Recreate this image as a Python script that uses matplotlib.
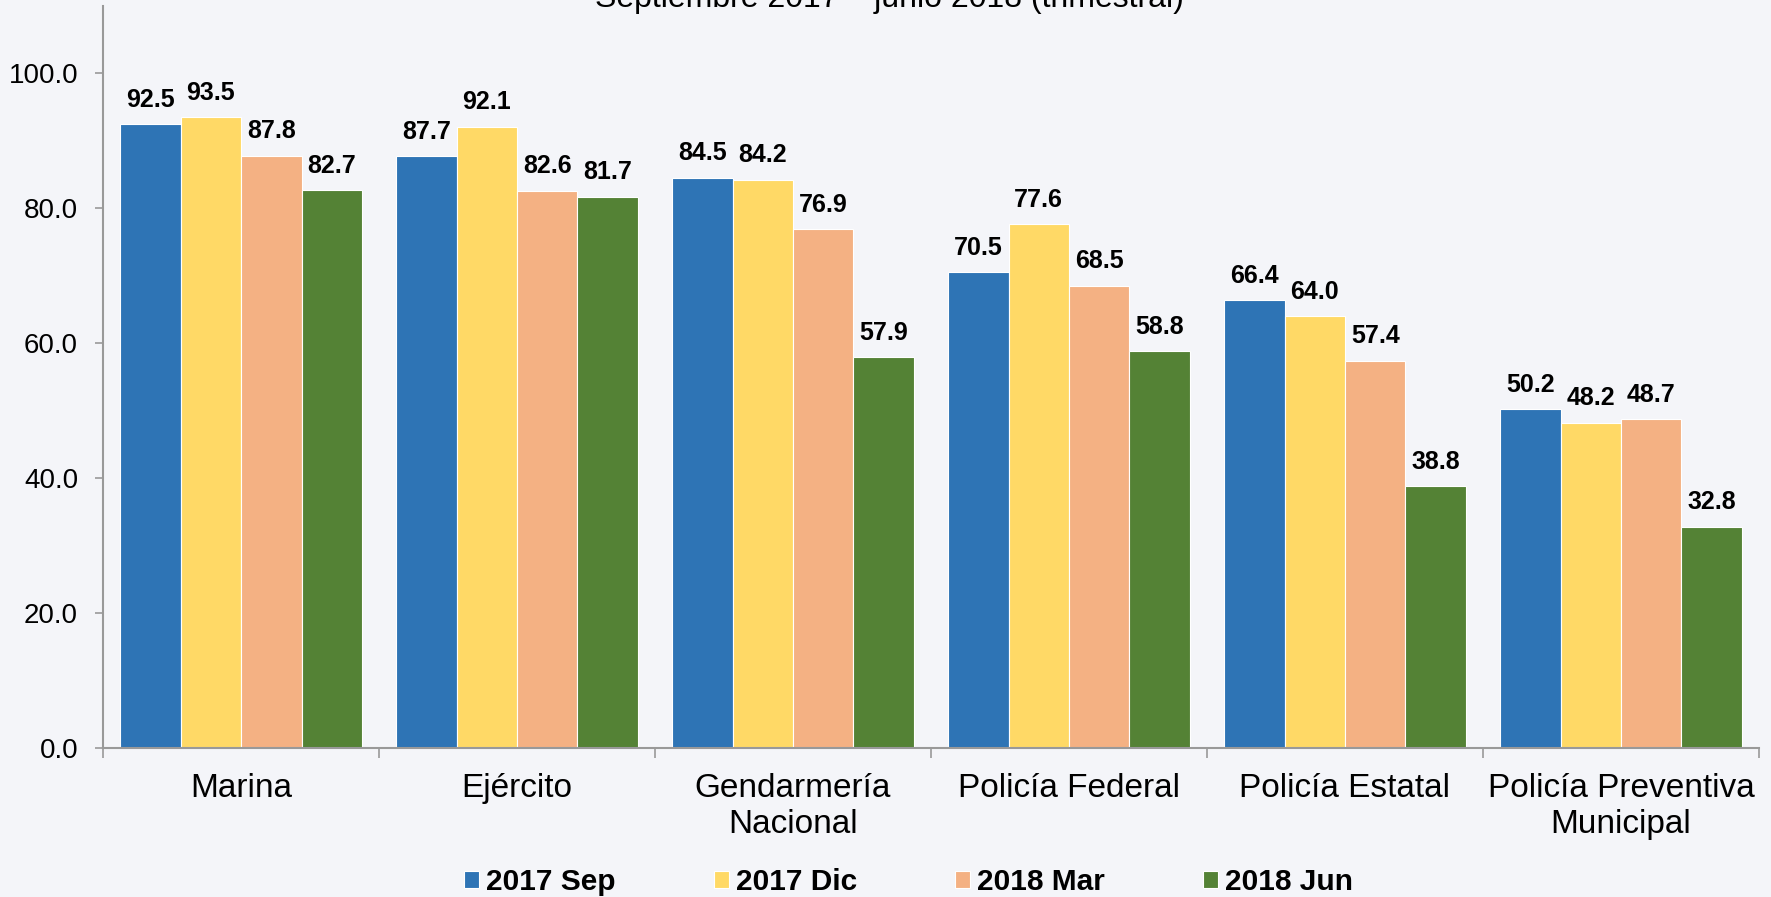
import matplotlib.pyplot as plt
import numpy as np

categories = ["Marina", "Ejército", "Gendarmería\nNacional", "Policía Federal",
              "Policía Estatal", "Policía Preventiva\nMunicipal"]
series = ["2017 Sep", "2017 Dic", "2018 Mar", "2018 Jun"]
sep_2017 = [92.5, 87.7, 84.5, 70.5, 66.4, 50.2]
dic_2017 = [93.5, 92.1, 84.2, 77.6, 64.0, 48.2]
mar_2018 = [87.8, 82.6, 76.9, 68.5, 57.4, 48.7]
jun_2018 = [82.7, 81.7, 57.9, 58.8, 38.8, 32.8]
colors = ["#2e74b5", "#ffd966", "#f4b183", "#548235"]

plt.rcParams['font.family'] = ['Liberation Sans', 'DejaVu Sans']
bg = "#f4f5f9"

fig = plt.figure(figsize=(17.71, 8.97), dpi=100, facecolor=bg)
ax = fig.add_axes([0.0582, 0.1664, 0.935, 0.8269], facecolor=bg)

x = np.arange(len(categories))
width = 0.219
for i, (name, vals) in enumerate(zip(series, [sep_2017, dic_2017, mar_2018, jun_2018])):
    pos = x + (i - 1.5) * width
    ax.bar(pos, vals, width, color=colors[i], edgecolor="white", linewidth=0.8, label=name)
    for p, v in zip(pos, vals):
        ax.annotate("{:.1f}".format(v), (p, v), xytext=(0, 9), textcoords="offset points",
                    ha="center", va="bottom", fontsize=18, fontweight="bold")

ax.set_xlim(-0.5, len(categories) - 0.5)
ax.set_ylim(0, 110)
ax.set_yticks(np.arange(0, 101, 20))
ax.set_yticklabels(["{:.1f}".format(t) for t in np.arange(0, 101, 20)], fontsize=20)
ax.set_xticks(x)
ax.set_xticklabels(categories, fontsize=24, linespacing=1.2)
ax.set_xticks(np.arange(-0.5, len(categories), 1), minor=True)
ax.tick_params(axis="x", which="major", length=0, pad=18)
ax.tick_params(axis="x", which="minor", length=7, width=1.2, color="#999999")
ax.tick_params(axis="y", length=6, width=1.2, color="#999999", pad=12)
for s in ["top", "right"]:
    ax.spines[s].set_visible(False)
for s in ["left", "bottom"]:
    ax.spines[s].set_color("#999999")
    ax.spines[s].set_linewidth(1.5)

fig.text(0.502, 1 - 7 / 897, "Septiembre 2017 – junio 2018 (trimestral)",
         ha="center", va="baseline", fontsize=23)

fig.legend(loc="center", bbox_to_anchor=(0.513, 0.0167), ncol=4, frameon=False,
           prop={"size": 21.5, "weight": "bold"}, handlelength=0.5, handleheight=0.5,
           handletextpad=0.23, columnspacing=3.3, borderpad=0)

fig.savefig("out.png", dpi=100, facecolor=bg)
